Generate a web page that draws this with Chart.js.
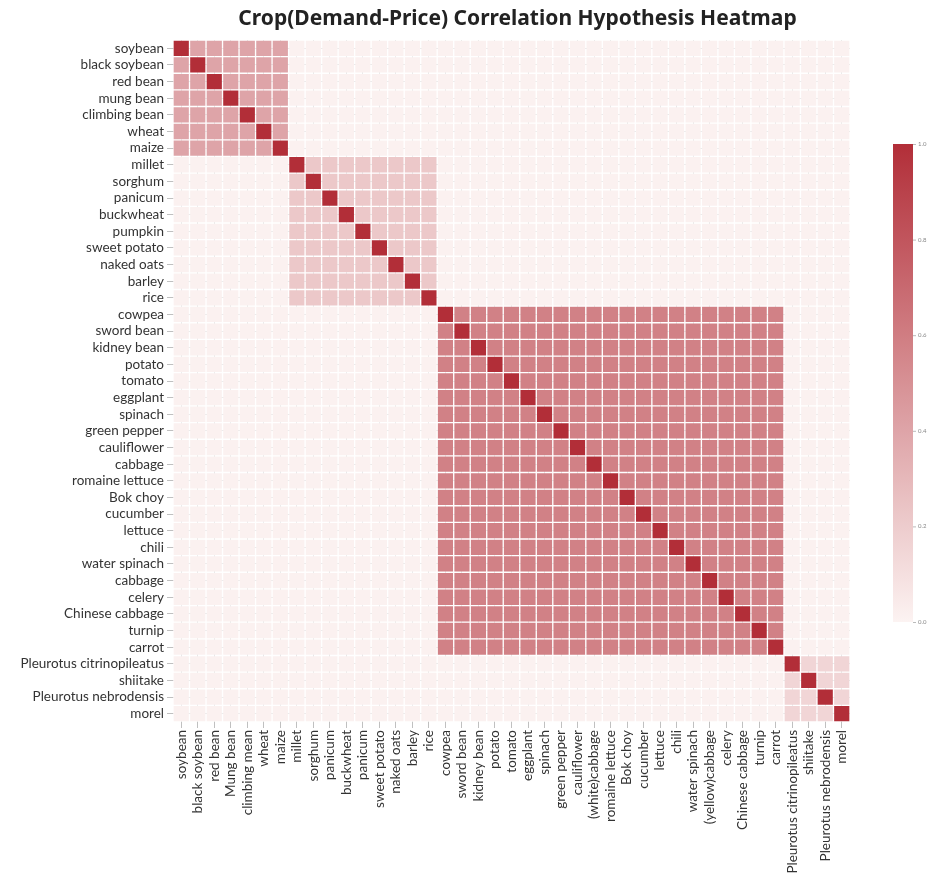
<!DOCTYPE html>
<html>
<head>
<meta charset="utf-8">
<script src="https://cdn.jsdelivr.net/npm/chart.js@4/dist/chart.umd.min.js"></script>
<style>
  html, body { margin: 0; padding: 0; background: #ffffff; }
  #wrap { width: 930px; height: 886px; position: relative; }
</style>
</head>
<body>
<div id="wrap"><canvas id="heat" width="930" height="886"></canvas></div>
<script>
// Row (y) labels, top to bottom
const yLabels = [
  'soybean', 'black soybean', 'red bean', 'mung bean', 'climbing bean', 'wheat', 'maize',
  'millet', 'sorghum', 'panicum', 'buckwheat', 'pumpkin', 'sweet potato', 'naked oats', 'barley', 'rice',
  'cowpea', 'sword bean', 'kidney bean', 'potato', 'tomato', 'eggplant', 'spinach', 'green pepper',
  'cauliflower', 'cabbage', 'romaine lettuce', 'Bok choy', 'cucumber', 'lettuce', 'chili',
  'water spinach', 'cabbage', 'celery', 'Chinese cabbage', 'turnip', 'carrot',
  'Pleurotus citrinopileatus', 'shiitake', 'Pleurotus nebrodensis', 'morel'
];
// Column (x) labels, left to right
const xLabels = [
  'soybean', 'black soybean', 'red bean', 'Mung bean', 'climbing mean', 'wheat', 'maize',
  'millet', 'sorghum', 'panicum', 'buckwheat', 'panicum', 'sweet potato', 'naked oats', 'barley', 'rice',
  'cowpea', 'sword bean', 'kidney bean', 'potato', 'tomato', 'eggplant', 'spinach', 'green pepper',
  'cauliflower', '(white)cabbage', 'romaine lettuce', 'Bok choy', 'cucumber', 'lettuce', 'chili',
  'water spinach', '(yellow)cabbage', 'celery', 'Chinese cabbage', 'turnip', 'carrot',
  'Pleurotus citrinopileatus', 'shiitake', 'Pleurotus nebrodensis', 'morel'
];
// Crop group of each row/column: grains & beans, coarse grains, vegetables, mushrooms
const cropGroup = [
  0, 0, 0, 0, 0, 0, 0,
  1, 1, 1, 1, 1, 1, 1, 1, 1,
  2, 2, 2, 2, 2, 2, 2, 2, 2, 2, 2, 2, 2, 2, 2, 2, 2, 2, 2, 2, 2,
  3, 3, 3, 3
];
// Correlation inside each group, between groups, and on the diagonal
const groupCorr = [0.40, 0.22, 0.58, 0.15];
const crossGroupCorr = 0.01;
const selfCorr = 1.0;
// Colour bar tick labels
const colorbarTicks = ['0.0', '0.2', '0.4', '0.6', '0.8', '1.0'];
const chartTitle = 'Crop(Demand-Price) Correlation Hypothesis Heatmap';

const n = yLabels.length;
const corr = [];
for (let r = 0; r < n; r++) {
  const row = [];
  for (let c = 0; c < n; c++) {
    if (r === c) row.push(selfCorr);
    else if (cropGroup[r] === cropGroup[c]) row.push(groupCorr[cropGroup[r]]);
    else row.push(crossGroupCorr);
  }
  corr.push(row);
}

// White-to-red colormap
const lowRGB = [252, 243, 242];
const highRGB = [178, 46, 56];
function colorFor(v) {
  const t = Math.max(0, Math.min(1, v));
  const ch = lowRGB.map((a, i) => Math.round(a + (highRGB[i] - a) * t));
  return `rgb(${ch[0]},${ch[1]},${ch[2]})`;
}

// One floating-bar dataset per row: each cell spans [row, row + 1] on the y scale
const datasets = corr.map((row, r) => ({
  label: yLabels[r],
  data: row.map(() => [r, r + 1]),
  backgroundColor: row.map(v => colorFor(v)),
  borderColor: 'rgba(255,255,255,0.38)',
  borderWidth: 1,
  borderSkipped: false,
  barPercentage: 1,
  categoryPercentage: 1,
  grouped: false
}));

// Title centred over the plot area
const titlePlugin = {
  id: 'plotTitle',
  afterDraw(chart) {
    const { ctx, chartArea } = chart;
    ctx.save();
    ctx.fillStyle = '#222';
    ctx.font = 'bold 21px "Noto Sans", sans-serif';
    ctx.textAlign = 'center';
    ctx.textBaseline = 'middle';
    ctx.fillText(chartTitle, (chartArea.left + chartArea.right) / 2 + 6, 19);
    ctx.restore();
  }
};

// Colour bar drawn to the right of the plot
const colorbarPlugin = {
  id: 'colorbar',
  afterDraw(chart) {
    const ctx = chart.ctx;
    const x = 893, w = 20, top = 144, bottom = 622;
    const grad = ctx.createLinearGradient(0, bottom, 0, top);
    for (let i = 0; i <= 10; i++) grad.addColorStop(i / 10, colorFor(i / 10));
    ctx.save();
    ctx.fillStyle = grad;
    ctx.fillRect(x, top, w, bottom - top);
    ctx.fillStyle = '#888';
    ctx.strokeStyle = '#bbb';
    ctx.lineWidth = 1;
    ctx.font = '6px Lato, sans-serif';
    ctx.textAlign = 'left';
    ctx.textBaseline = 'middle';
    colorbarTicks.forEach((lab, i) => {
      const y = bottom - (bottom - top) * (i / (colorbarTicks.length - 1));
      ctx.beginPath();
      ctx.moveTo(x + w, y + 0.5);
      ctx.lineTo(x + w + 3, y + 0.5);
      ctx.stroke();
      ctx.fillText(lab, x + w + 5, y);
    });
    ctx.restore();
  }
};

new Chart(document.getElementById('heat'), {
  type: 'bar',
  data: { labels: xLabels, datasets },
  options: {
    responsive: false,
    animation: false,
    events: [],
    layout: { padding: { left: 0, right: 80, top: 40, bottom: 0 } },
    plugins: {
      legend: { display: false },
      tooltip: { enabled: false },
      title: { display: false }
    },
    scales: {
      x: {
        type: 'category',
        offset: true,
        z: 1,
        grid: { offset: false, color: 'rgba(150,150,150,0.35)', lineWidth: 1, tickLength: 6, tickColor: 'rgba(150,150,150,0.6)' },
        border: { display: false },
        ticks: {
          autoSkip: false,
          minRotation: 90,
          maxRotation: 90,
          color: '#333',
          padding: 2,
          font: { family: 'Lato', size: 13.5 }
        },
        afterFit(scale) { scale.height = 164; }
      },
      y: {
        type: 'linear',
        min: 0,
        max: n,
        reverse: true,
        z: 1,
        grid: { color: 'rgba(150,150,150,0.35)', lineWidth: 1, tickLength: 6, tickColor: 'rgba(150,150,150,0.6)' },
        border: { display: false },
        afterBuildTicks(scale) {
          scale.ticks = yLabels.map((_, i) => ({ value: i + 0.5 }));
        },
        ticks: {
          autoSkip: false,
          color: '#333',
          padding: 3,
          font: { family: 'Lato', size: 13.5 },
          callback: (v, i) => yLabels[i]
        },
        afterFit(scale) { scale.width = 173; }
      }
    }
  },
  plugins: [titlePlugin, colorbarPlugin]
});
</script>
</body>
</html>
